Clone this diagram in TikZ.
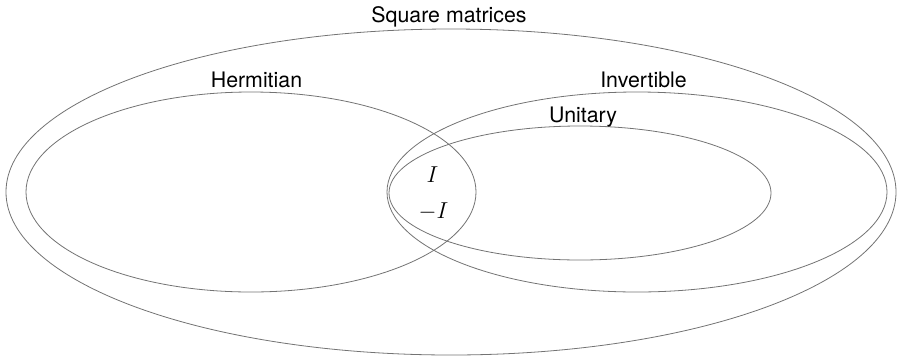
\documentclass[tikz,border=0pt]{standalone}
\usepackage{fontspec}
\setsansfont{TeX Gyre Heros}
\begin{document}
\begin{tikzpicture}[x=0.75pt,y=-0.75pt]
    \tikzset{set/.style={line width=0.6pt,draw=black!55},
             setname/.style={font=\sffamily\fontsize{16}{19}\selectfont,anchor=base},
             member/.style={font=\fontsize{16.5}{19}\selectfont}}
    \useasboundingbox (0,0) rectangle (898,361);

    % The class of square matrices
    \draw[set] (451,192) ellipse (445 and 163);
    \node[setname] (sq) at (449,22.5) {Square matrices};

    % Hermitian matrices
    \draw[set] (251,192) ellipse (225 and 100);
    \node[setname] (herm) at (256.5,87) {Hermitian};

    % Invertible matrices
    \draw[set] (637,192) ellipse (250 and 100);
    \node[setname] (inv) at (643.5,87) {Invertible};

    % Unitary matrices
    \draw[set] (580,193) ellipse (191 and 67);
    \node[setname] (unit) at (583,122) {Unitary};

    % Members of all three
    \node[member] (id) at (432.5,175) {$I$};
    \node[member] (mid) at (433.5,212) {$-I$};
\end{tikzpicture}
\end{document}
